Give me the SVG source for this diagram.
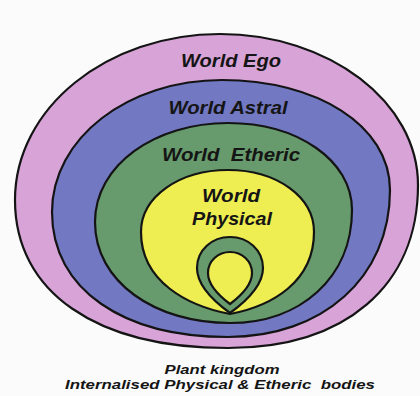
<svg xmlns="http://www.w3.org/2000/svg" width="420" height="396" viewBox="0 0 420 396">
<style>
.ln{stroke:#141414;stroke-width:2.2;stroke-linejoin:round}
.t{font-family:"Liberation Sans",Arial,sans-serif;font-weight:bold;font-style:italic;fill:#151515;text-anchor:middle}
</style>
<rect width="420" height="396" fill="#fbfbfb"/>
<g id="world-ego">
<path class="ln" fill="#d8a4d8" d="M220,34 C329,34 418,102 418,185 C418,286 345,348 228,348 C96,348 15,292 15,200 C15,108 107,34 220,34 Z"/>
<text class="t" x="231" y="67" font-size="19" textLength="100" lengthAdjust="spacingAndGlyphs">World Ego</text>
</g>
<g id="world-astral">
<path class="ln" fill="#7278c2" d="M222,80 C316,80 390,125 390,190 C390,278 322,337 228,337 C124,337 52,290 52,212 C52,138 128,80 222,80 Z"/>
<text class="t" x="228" y="114" font-size="19" textLength="119" lengthAdjust="spacingAndGlyphs">World Astral</text>
</g>
<g id="world-etheric">
<path class="ln" fill="#679a6c" d="M228,123 C297,123 352,160 352,210 C352,278 300,323 230,323 C155,323 95,282 95,222 C95,165 155,123 228,123 Z"/>
<text class="t" x="231" y="161" font-size="19" textLength="138" lengthAdjust="spacingAndGlyphs" xml:space="preserve">World  Etheric</text>
</g>
<g id="world-physical">
<path class="ln" fill="#eeee52" d="M228,170 C277,170 314,197 314,232 C314,282 272,306 230,314 C188,306 141,282 141,232 C141,197 179,170 228,170 Z"/>
<path class="ln" fill="#679a6c" d="M230,313 C212,300 197,285 197,268 C197,250 212,237 230,237 C248,237 263,250 263,268 C263,285 248,300 230,313 Z"/>
<path class="ln" fill="#eeee52" d="M230,304 C218,295 208,285 208,273 C208,261 218,252 230,252 C242,252 252,261 252,273 C252,285 242,295 230,304 Z"/>
<text class="t" x="231" y="202" font-size="19" textLength="58" lengthAdjust="spacingAndGlyphs">World</text>
<text class="t" x="232" y="225" font-size="19" textLength="80" lengthAdjust="spacingAndGlyphs">Physical</text>
</g>
<g id="caption">
<text class="t" x="222" y="374" font-size="13" textLength="115" lengthAdjust="spacingAndGlyphs">Plant kingdom</text>
<text class="t" x="220" y="389" font-size="13" textLength="310" lengthAdjust="spacingAndGlyphs" xml:space="preserve">Internalised Physical &amp; Etheric  bodies</text>
</g>
<g id="connectors"/>
</svg>
